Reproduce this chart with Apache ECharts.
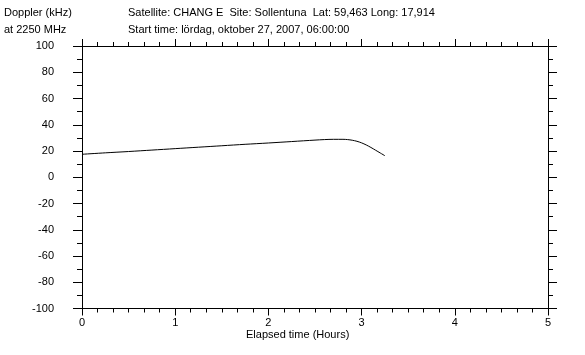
<!DOCTYPE html>
<html><head><meta charset="utf-8">
<script src="https://cdn.jsdelivr.net/npm/echarts@6/dist/echarts.min.js"></script>
<style>html,body{margin:0;padding:0;background:#fff}#c{width:585px;height:355px}</style>
</head><body><div id="c"></div>
<script>
const hours = [0, 0.25, 0.5, 0.75, 1, 1.25, 1.5, 1.75, 2, 2.25, 2.5, 2.6, 2.7, 2.8, 2.85, 2.9, 2.95, 3.0, 3.05, 3.1, 3.15, 3.2, 3.25];
const doppler = [17.5, 18.6, 19.6, 20.7, 21.8, 22.9, 24.0, 25.1, 26.1, 27.2, 28.3, 28.7, 28.9, 28.9, 28.7, 28.2, 27.4, 26.2, 24.6, 22.7, 20.6, 18.5, 16.4];
const xTicks = [0, 1, 2, 3, 4, 5];
const yTicks = [-100, -80, -60, -40, -20, 0, 20, 40, 60, 80, 100];
const headerLeft = ['Doppler (kHz)', 'at 2250 MHz'];
const headerRight = ['Satellite: CHANG E  Site: Sollentuna  Lat: 59,463 Long: 17,914', 'Start time: lördag, oktober 27, 2007, 06:00:00'];
const xName = 'Elapsed time (Hours)';

const font = 'Liberation Sans, Arial, sans-serif';
const axisBase = {
  axisLine: {show: true, onZero: false, lineStyle: {color: '#000', width: 1}},
  axisTick: {show: true, inside: false, lineStyle: {color: '#000', width: 1}},
  minorTick: {show: true, lineStyle: {color: '#000', width: 1}},
  splitLine: {show: false},
  minorSplitLine: {show: false}
};
const chart = echarts.init(document.getElementById('c'), null, {renderer: 'canvas'});
const txt = (x, y, t) => ({type: 'text', left: x, top: y, style: {text: t, fill: '#000', font: '11px ' + font}});
const xAx = (pos, showLabel) => Object.assign({}, axisBase, {type: 'value', position: pos,
  min: xTicks[0], max: xTicks[xTicks.length - 1], interval: 1,
  axisTick: Object.assign({}, axisBase.axisTick, {length: 7}),
  minorTick: Object.assign({}, axisBase.minorTick, {splitNumber: 6, length: 4}),
  axisLabel: {show: showLabel, color: '#000', fontSize: 11, fontFamily: font, margin: 9}});
const yAx = (pos, showLabel) => Object.assign({}, axisBase, {type: 'value', position: pos,
  min: yTicks[0], max: yTicks[yTicks.length - 1], interval: 20,
  axisTick: Object.assign({}, axisBase.axisTick, {length: 9}),
  minorTick: Object.assign({}, axisBase.minorTick, {splitNumber: 2, length: 5}),
  axisLabel: {show: showLabel, color: '#000', fontSize: 11, fontFamily: font, margin: 28}});
chart.setOption({
  animation: false,
  backgroundColor: '#fff',
  grid: {left: 82, right: 37, top: 46, bottom: 46.5},
  graphic: [
    txt(4, 7, headerLeft[0]), txt(4, 24, headerLeft[1]),
    txt(128, 7, headerRight[0]), txt(128, 24, headerRight[1]),
    txt(246, 329, xName)
  ],
  xAxis: [xAx('bottom', true), xAx('top', false)],
  yAxis: [yAx('left', true), yAx('right', false)],
  series: [{
    type: 'line', xAxisIndex: 0, yAxisIndex: 0, showSymbol: false, smooth: 0.3,
    lineStyle: {color: '#000', width: 1},
    data: hours.map((h, i) => [h, doppler[i]])
  }]
});
</script></body></html>
